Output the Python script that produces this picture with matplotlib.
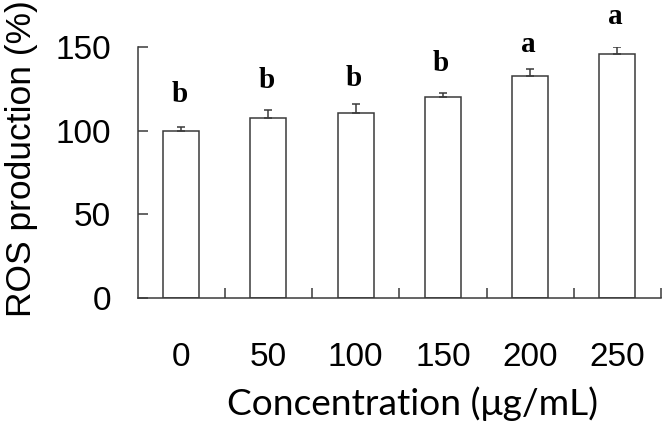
import matplotlib
matplotlib.use("Agg")
import matplotlib.pyplot as plt
import numpy as np

categories = ["0", "50", "100", "150", "200", "250"]
values = [99.6, 107.8, 110.4, 120.0, 132.9, 145.9]
errors = [2.6, 4.4, 5.6, 2.8, 4.4, 4.4]
letters = ["b", "b", "b", "b", "a", "a"]
letter_y = [117.4, 125.4, 127.0, 136.0, 147.3, 164.0]
yticks = [0, 50, 100, 150]

fig = plt.figure(figsize=(6.72, 4.24), dpi=100)
ax = fig.add_axes([137.5/672, 1-297.7/424, (661-137.5)/672, (297.7-47.3)/424])

x = np.arange(len(categories))
edge = "#3a3a3a"
ax.bar(x, values, width=0.41, color="white", edgecolor=edge, linewidth=1.1, zorder=2)
ax.errorbar(x, values, yerr=[np.zeros(len(errors)), errors], fmt="none",
            ecolor=edge, elinewidth=1.1, capsize=2.8, capthick=1.1, zorder=3)

for xi, ly, l in zip(x, letter_y, letters):
    ax.text(xi - 0.02, ly, l, ha="center", va="baseline", fontsize=21,
            fontweight="bold", family="Liberation Serif", clip_on=False)

ax.set_xlim(-0.5, 5.5)
ax.set_ylim(0, 150)
ax.set_yticks(yticks)
ax.set_yticklabels([str(t) for t in yticks], family="Liberation Sans", fontsize=24)
ax.set_xticks(x)
ax.set_xticklabels(categories, family="Liberation Sans", fontsize=24)
ax.set_xticks(np.arange(-0.5, 6.0, 1.0)[1:], minor=True)

ax.tick_params(axis="x", which="major", length=0, pad=32)
ax.tick_params(axis="x", which="minor", direction="in", length=7, width=1.1, color=edge)
ax.tick_params(axis="y", which="major", direction="in", length=7, width=1.1, color=edge, pad=19)

for s in ["top", "right"]:
    ax.spines[s].set_visible(False)
for s in ["left", "bottom"]:
    ax.spines[s].set_color(edge)
    ax.spines[s].set_linewidth(1.1)

ax.set_ylabel("ROS production (%)", family="Liberation Sans", fontsize=25.5)
ax.yaxis.set_label_coords(-0.19, 0.555)
ax.set_xlabel("Concentration (\u03bcg/mL)", family="Lato", fontsize=26.7)
ax.xaxis.set_label_coords(0.525, -0.355)

fig.savefig("out.png", dpi=100)
